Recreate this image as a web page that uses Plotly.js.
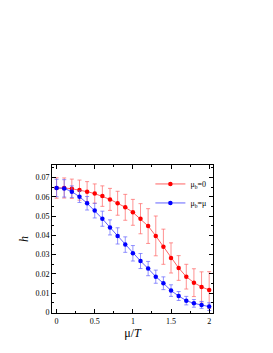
<!DOCTYPE html>
<html><head><meta charset="utf-8">
<script src="https://cdn.plot.ly/plotly-3.0.1.min.js"></script>
<style>html,body{margin:0;padding:0;background:#fff}#plot{width:273px;height:353px}</style>
</head><body><div id="plot"></div>
<script>
const xVals = [0,0.1,0.2,0.3,0.4,0.5,0.6,0.7,0.8,0.9,1.0,1.1,1.2,1.3,1.4,1.5,1.6,1.7,1.8,1.9,2.0];
const redY = [0.0645,0.0645,0.0641,0.0634,0.0626,0.0616,0.0603,0.0586,0.0566,0.0545,0.0519,0.0486,0.0448,0.0397,0.0341,0.0283,0.0231,0.0186,0.0155,0.0133,0.0117];
const redErr = [0.0053,0.0052,0.005,0.0052,0.0052,0.005,0.0053,0.0057,0.0062,0.0067,0.0067,0.0078,0.009,0.0103,0.0091,0.0078,0.0064,0.0064,0.0072,0.0078,0.0095];
const blueY = [0.0645,0.0643,0.0626,0.0600,0.0566,0.0528,0.0486,0.0441,0.0397,0.0352,0.0307,0.0267,0.0228,0.0186,0.0152,0.0114,0.0086,0.0062,0.0048,0.0040,0.0031];
const blueErr = [0.0045,0.0045,0.003,0.003,0.0035,0.0038,0.0039,0.0039,0.0042,0.004,0.004,0.0039,0.0037,0.0034,0.0033,0.003,0.0023,0.0022,0.002,0.0018,0.002];
const seriesNames = ['μ<sub>b</sub>=0','μ<sub>b</sub>=μ'];

const tickFont = {family:'Liberation Serif, serif', size:8, color:'#000'};
const traces = [
  {x:xVals, y:redY, name:seriesNames[0], mode:'lines+markers', type:'scatter',
   line:{color:'rgba(255,60,60,0.8)', width:1},
   marker:{color:'#ff0000', size:4.5, symbol:'circle'},
   error_y:{type:'data', array:redErr, visible:true, color:'rgba(255,100,100,0.7)', thickness:1, width:2}},
  {x:xVals, y:blueY, name:seriesNames[1], mode:'lines+markers', type:'scatter',
   line:{color:'rgba(60,60,255,0.8)', width:1},
   marker:{color:'#0000ff', size:4.5, symbol:'circle'},
   error_y:{type:'data', array:blueErr, visible:true, color:'rgba(100,100,255,0.7)', thickness:1, width:2}}
];
const layout = {
  width:273, height:353,
  margin:{l:52, r:60, t:165, b:40},
  paper_bgcolor:'#fff', plot_bgcolor:'#fff',
  showlegend:true,
  legend:{x:0.99, y:0.97, xanchor:'right', yanchor:'top', bgcolor:'rgba(0,0,0,0)',
    font:{family:'Liberation Serif, serif', size:8, color:'#000'}, itemwidth:30, tracegroupgap:0},
  xaxis:{range:[-0.06,2.05], showgrid:false, zeroline:false, showline:true, linecolor:'#000', linewidth:1,
    mirror:'allticks', ticks:'inside', ticklen:4, tickcolor:'#000', dtick:0.5, tickfont:tickFont,
    minor:{dtick:0.25, ticklen:2, ticks:'inside', tickcolor:'#000', showgrid:false},
    title:{text:'μ/<i>T</i>', font:{family:'Liberation Serif, serif', size:12, color:'#000'}, standoff:2}},
  yaxis:{range:[-0.0002,0.0764], showgrid:false, zeroline:false, showline:true, linecolor:'#000', linewidth:1,
    mirror:'allticks', ticks:'inside', ticklen:4, tickcolor:'#000', dtick:0.01, tickfont:tickFont,
    minor:{dtick:0.005, ticklen:2, ticks:'inside', tickcolor:'#000', showgrid:false},
    title:{text:'<i>h</i>', font:{family:'Liberation Serif, serif', size:12, color:'#000'}, standoff:4}}
};
Plotly.newPlot('plot', traces, layout, {displayModeBar:false, staticPlot:true});
</script></body></html>
